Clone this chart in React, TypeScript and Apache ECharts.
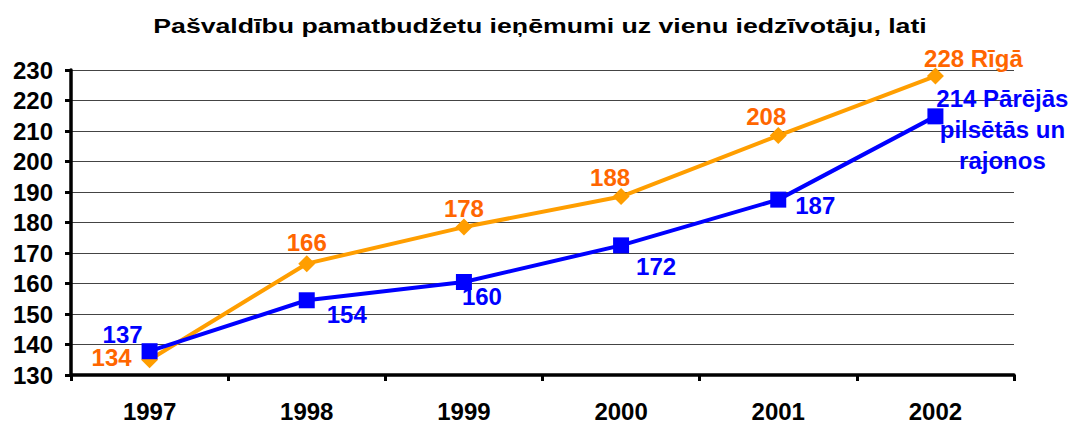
import React, { useEffect, useRef } from "react";
import * as echarts from "echarts";

const title = "Pašvaldību pamatbudžetu ieņēmumi uz vienu iedzīvotāju, lati";
const years = ["1997", "1998", "1999", "2000", "2001", "2002"];
const riga = [135, 166.5, 178.5, 188.5, 208.5, 228];
const rigaLabels = ["134", "166", "178", "188", "208", "228 Rīgā"];
const others = [137.8, 154.5, 160.5, 172.5, 187.5, 214.8];
const othersLabels = ["137", "154", "160", "172", "187", "214 Pārējās\npilsētās un\nrajonos"];
const yTicks = [130, 140, 150, 160, 170, 180, 190, 200, 210, 220, 230];

const FONT = "'Liberation Sans', Arial, sans-serif";

// label centre offsets from the point (px)
const rigaOffsets = [[-38, -2], [0, -21], [0, -19], [-11, -19], [-12, -19], [38, -18]];
const othersOffsets = [[-27, -17], [40, 14], [18, 15], [35, 21], [37, 6], [67, 13]];

export default function App() {
  const ref = useRef<HTMLDivElement>(null);
  useEffect(() => {
    const chart = echarts.init(ref.current!, null, { renderer: "svg" });
    chart.setOption({
      animation: false,
      graphic: [
        {
          type: "text",
          x: 540,
          y: 26,
          scaleX: 1.27,
          style: {
            text: title,
            x: 0,
            y: 0,
            align: "center",
            verticalAlign: "middle",
            fontFamily: FONT,
            fontWeight: "bold",
            fontSize: 21,
            fill: "#000",
          },
        },
      ],
      grid: { left: 71, right: 59, top: 70, bottom: 46 },
      xAxis: {
        type: "category",
        data: years,
        boundaryGap: true,
        axisLine: { lineStyle: { color: "#000", width: 3.5 } },
        axisTick: { show: true, length: 6, inside: false, lineStyle: { color: "#000", width: 3 } },
        axisLabel: { color: "#000", fontFamily: FONT, fontWeight: "bold", fontSize: 24, margin: 24 },
      },
      yAxis: {
        type: "value",
        min: yTicks[0],
        max: yTicks[yTicks.length - 1],
        interval: 10,
        axisLine: { show: true, lineStyle: { color: "#000", width: 3.5 } },
        axisTick: { show: true, length: 6, lineStyle: { color: "#000", width: 3 } },
        axisLabel: { color: "#000", fontFamily: FONT, fontWeight: "bold", fontSize: 24, margin: 18 },
        splitLine: { show: true, lineStyle: { color: "#444", width: 1 } },
      },
      series: [
        {
          name: "Rīgā",
          type: "line",
          data: riga.map((v, i) => ({
            value: v,
            label: {
              show: true,
              formatter: rigaLabels[i],
              position: "inside",
              offset: rigaOffsets[i],
            },
          })),
          symbol: "diamond",
          symbolSize: 17,
          lineStyle: { color: "#FF9E00", width: 4 },
          itemStyle: { color: "#FF9E00" },
          label: {
            color: "#FF6600",
            fontFamily: FONT,
            fontWeight: "bold",
            fontSize: 24,
            lineHeight: 19,
            align: "center",
            verticalAlign: "middle",
          },
          z: 2,
        },
        {
          name: "Pārējās pilsētās un rajonos",
          type: "line",
          data: others.map((v, i) => ({
            value: v,
            label: {
              show: true,
              formatter: othersLabels[i],
              position: "inside",
              offset: othersOffsets[i],
              lineHeight: i === 5 ? 31 : 19,
            },
          })),
          symbol: "rect",
          symbolSize: 16,
          lineStyle: { color: "#0000FF", width: 4 },
          itemStyle: { color: "#0000FF" },
          label: {
            color: "#0000FF",
            fontFamily: FONT,
            fontWeight: "bold",
            fontSize: 24,
            align: "center",
            verticalAlign: "middle",
          },
          z: 3,
        },
      ],
    });
    return () => chart.dispose();
  }, []);
  return (
    <div
      ref={ref}
      style={{ position: "fixed", left: 0, top: 0, width: 1073, height: 423, background: "#fff" }}
    />
  );
}
